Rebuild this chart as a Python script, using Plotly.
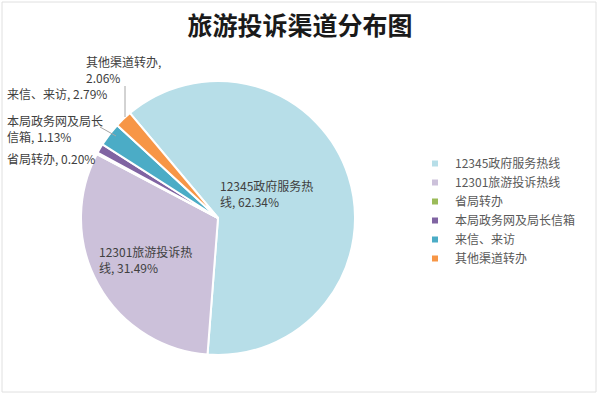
import plotly.graph_objects as go

categories = ["12345政府服务热线", "12301旅游投诉热线", "省局转办", "本局政务网及局长信箱", "来信、来访", "其他渠道转办"]
values = [62.34, 31.49, 0.20, 1.13, 2.79, 2.06]
colors = ["#B7DEE8", "#CCC1DA", "#9BBB59", "#8064A2", "#4BACC6", "#F79646"]
label_texts = [
    "12345政府服务热<br>线, 62.34%",
    "12301旅游投诉热<br>线, 31.49%",
    "省局转办, 0.20%",
    "本局政务网及局长<br>信箱, 1.13%",
    "来信、来访, 2.79%",
    "其他渠道转办,<br>2.06%",
]
title_text = "旅游投诉渠道分布图"

W, H = 600, 394
FONT = "Noto Sans CJK SC"

fig = go.Figure()
fig.add_trace(go.Pie(
    labels=categories,
    values=values,
    sort=False,
    direction="clockwise",
    rotation=-40,
    marker=dict(colors=colors, line=dict(color="white", width=2)),
    textinfo="none",
    showlegend=False,
    domain=dict(x=[81 / W, 355 / W], y=[1 - 355 / H, 1 - 81 / H]),
    hovertemplate="%{label}: %{value}%<extra></extra>",
))

# legend entries (small square markers)
for cat, col in zip(categories, colors):
    fig.add_trace(go.Scatter(
        x=[None], y=[None], mode="markers", name=cat,
        marker=dict(symbol="square", size=6, color=col),
        showlegend=True,
    ))

# data label positions (left x px, centre y px)
label_pos = [(218, 193.5), (97, 259.5), (5, 158), (5, 129), (5, 94), (84, 69.5)]
annotations = []
for txt, (px, py) in zip(label_texts, label_pos):
    annotations.append(dict(
        text=txt, x=px / W, y=1 - py / H, xref="paper", yref="paper",
        xanchor="left", yanchor="middle", align="left", showarrow=False,
        font=dict(family=FONT, size=12, color="#404040"),
    ))

shapes = [
    # leader lines
    dict(type="line", xref="paper", yref="paper", x0=125 / W, y0=1 - 86 / H, x1=125 / W, y1=1 - 117 / H,
         line=dict(color="#A6A6A6", width=1)),
    dict(type="line", xref="paper", yref="paper", x0=100 / W, y0=1 - 127 / H, x1=116 / W, y1=1 - 136 / H,
         line=dict(color="#A6A6A6", width=1)),
    # outer frame
    dict(type="rect", xref="paper", yref="paper", x0=2 / W, y0=1 - 392 / H, x1=596 / W, y1=1 - 2 / H,
         line=dict(color="#E0E0E0", width=1)),
]

fig.update_layout(
    width=W, height=H,
    margin=dict(l=0, r=0, t=0, b=0),
    paper_bgcolor="white", plot_bgcolor="white",
    title=dict(text=title_text, x=0.5, xanchor="center", y=1 - 26 / H, yanchor="middle",
               font=dict(family=FONT, size=25, color="#1A1A1A", weight="bold")),
    xaxis=dict(visible=False), yaxis=dict(visible=False),
    legend=dict(x=415 / W, y=1 - 149 / H, xanchor="left", yanchor="top",
                font=dict(family=FONT, size=12, color="#595959"),
                bgcolor="rgba(0,0,0,0)", tracegroupgap=0),
    annotations=annotations,
    shapes=shapes,
)

fig.write_html("out.html", config={"displayModeBar": False},
               post_script="document.body.style.margin='0';")
